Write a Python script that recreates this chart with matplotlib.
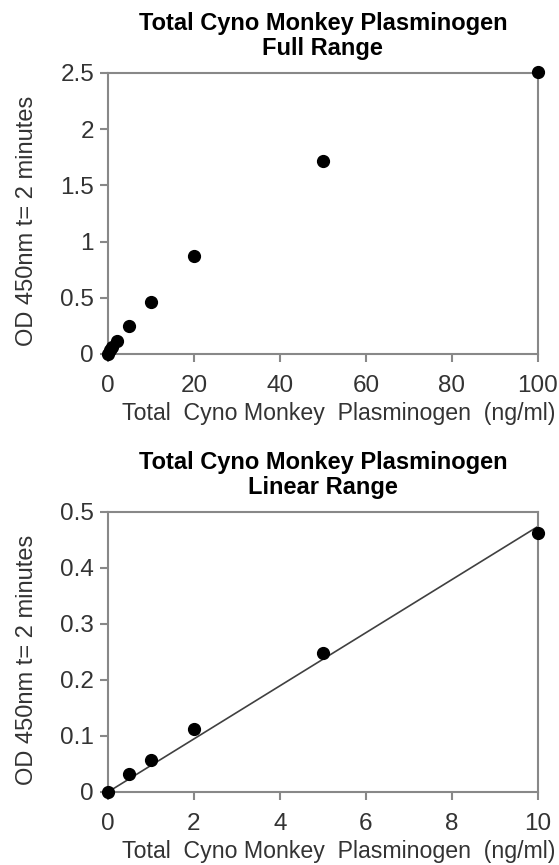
import matplotlib
matplotlib.use("Agg")
import matplotlib.pyplot as plt
import numpy as np

plt.rcParams['font.family'] = ['Liberation Sans', 'DejaVu Sans']

# data
conc_full = [0, 0.5, 1, 2, 5, 10, 20, 50, 100]
od_full = [0, 0.033, 0.058, 0.113, 0.249, 0.463, 0.87, 1.72, 2.51]

conc_lin = [0, 0.5, 1, 2, 5, 10]
od_lin = [0, 0.033, 0.058, 0.113, 0.249, 0.463]

xlabel = 'Total  Cyno Monkey  Plasminogen  (ng/ml)'
ylabel = 'OD 450nm t= 2 minutes'

fig = plt.figure(figsize=(5.59, 8.65), dpi=100)
ax1 = fig.add_axes([0.1932, 0.5908, 0.769, 0.3249])
ax2 = fig.add_axes([0.1932, 0.0844, 0.769, 0.3237])

spine_col = '#888888'
text_col = '#333333'


def style(ax):
    for s in ax.spines.values():
        s.set_color(spine_col)
        s.set_linewidth(1.5)
    ax.tick_params(direction='out', length=6, width=1.5, color=spine_col,
                   labelsize=17.5, labelcolor=text_col)
    ax.tick_params(axis='x', pad=9)
    ax.tick_params(axis='y', pad=4)
    ax.set_xlabel(xlabel, fontsize=16.7, color=text_col, labelpad=4)
    ax.set_ylabel(ylabel, fontsize=17, color=text_col, labelpad=16)
    # excel puts the axis titles a little off centre
    ax.xaxis.label.set_x(0.537)
    ax.yaxis.label.set_y(0.472)


# full range
ax1.plot(conc_full, od_full, 'o', color='black', markersize=8.5, clip_on=False, zorder=5)
ax1.set_xlim(0, 100)
ax1.set_ylim(0, 2.5)
ax1.set_xticks([0, 20, 40, 60, 80, 100])
ax1.set_yticks([0, 0.5, 1, 1.5, 2, 2.5])
ax1.set_yticklabels(['0', '0.5', '1', '1.5', '2', '2.5'])
ax1.set_title('Total Cyno Monkey Plasminogen\nFull Range', fontsize=17,
              fontweight='bold', pad=13, linespacing=1.1)
style(ax1)

# linear range with fit through origin
x = np.array(conc_lin)
y = np.array(od_lin)
slope = np.sum(x * y) / np.sum(x * x)
xfit = np.array([0, 10])
ax2.plot(xfit, slope * xfit, color='#404040', linewidth=1.2)
ax2.plot(conc_lin, od_lin, 'o', color='black', markersize=8.5, clip_on=False, zorder=5)
ax2.set_xlim(0, 10)
ax2.set_ylim(0, 0.5)
ax2.set_xticks([0, 2, 4, 6, 8, 10])
ax2.set_yticks([0, 0.1, 0.2, 0.3, 0.4, 0.5])
ax2.set_yticklabels(['0', '0.1', '0.2', '0.3', '0.4', '0.5'])
ax2.set_title('Total Cyno Monkey Plasminogen\nLinear Range', fontsize=17,
              fontweight='bold', pad=13, linespacing=1.1)
style(ax2)

fig.savefig('out.png', dpi=100)
